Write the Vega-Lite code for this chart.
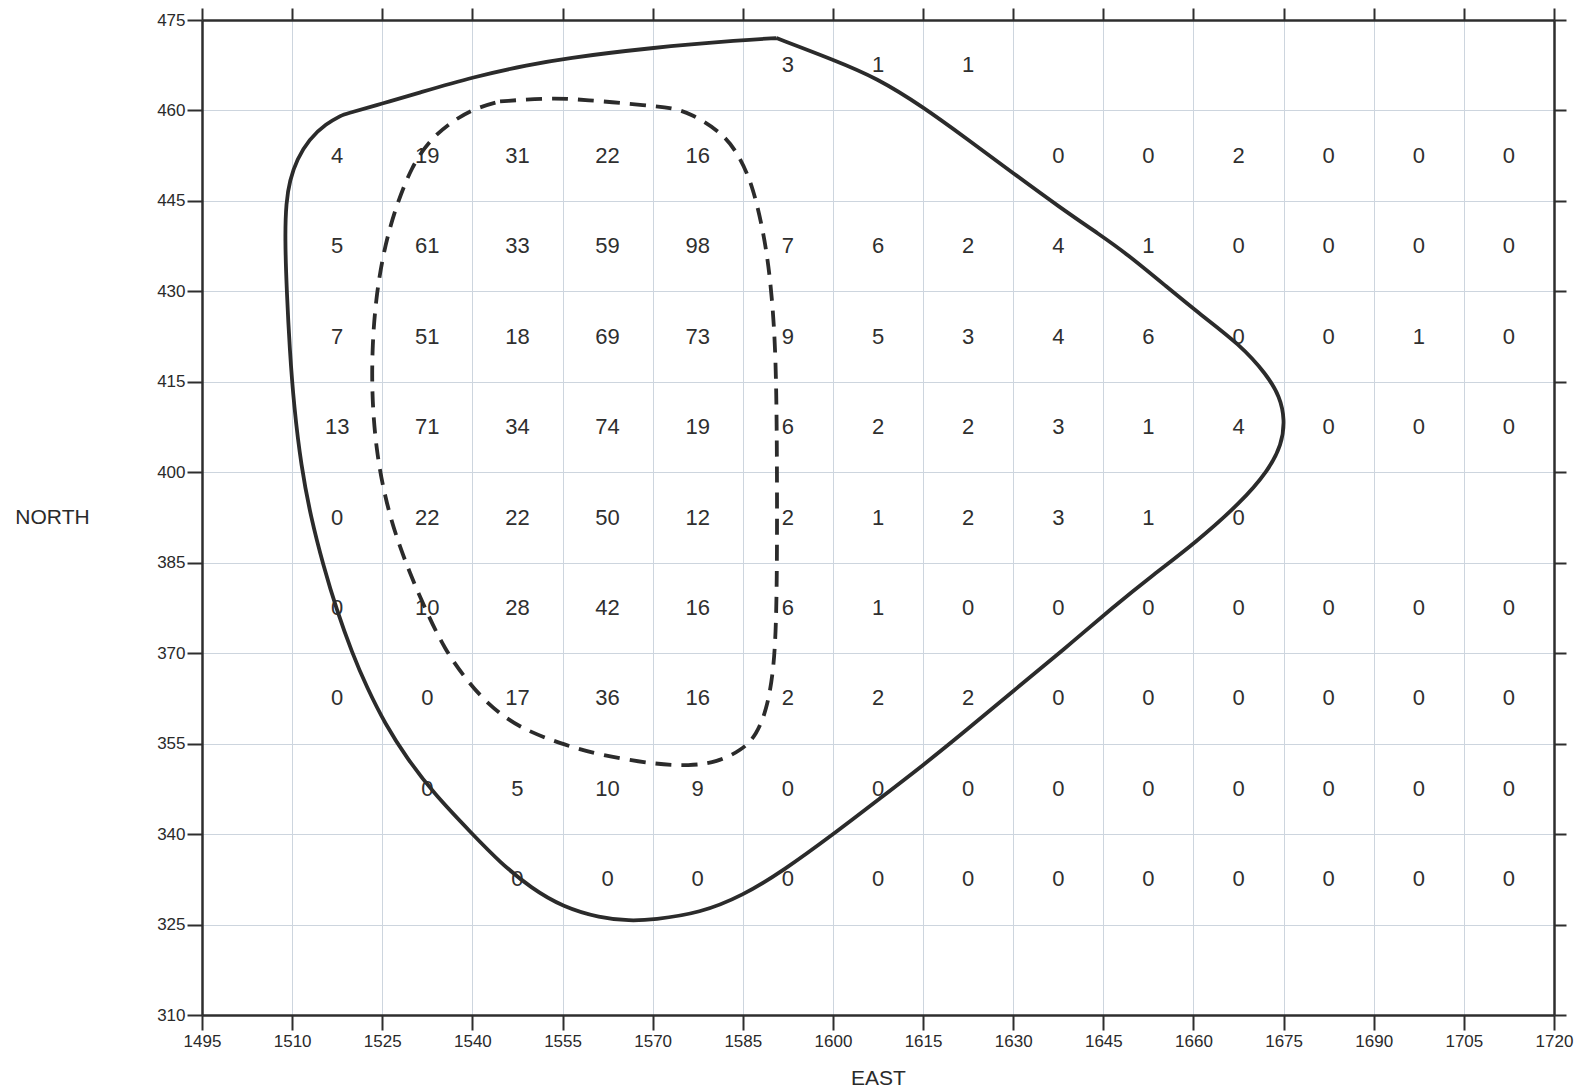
{
  "$schema": "https://vega.github.io/schema/vega-lite/v6.json",
  "width": 1352,
  "height": 995,
  "autosize": {"type": "none"},
  "padding": {"left": 202, "top": 20, "right": 30, "bottom": 75},
  "background": "white",
  "config": {
    "view": {"stroke": null},
    "axis": {
      "labelFont": "Liberation Sans",
      "labelFontSize": 17,
      "labelColor": "#2a2a2a",
      "labelFlush": false,
      "labelOverlap": false,
      "titleFont": "Liberation Sans",
      "titleFontSize": 21,
      "titleFontWeight": "normal",
      "titleColor": "#2a2a2a",
      "domainColor": "#2e2e2e",
      "domainWidth": 2.5,
      "tickColor": "#2e2e2e",
      "tickWidth": 2,
      "gridColor": "#cdd5de",
      "gridWidth": 1
    }
  },
  "datasets": {
    "cells": [
      {"e": 1592.5, "n": 467.5, "v": 3}, {"e": 1607.5, "n": 467.5, "v": 1}, {"e": 1622.5, "n": 467.5, "v": 1},
      {"e": 1517.5, "n": 452.5, "v": 4}, {"e": 1532.5, "n": 452.5, "v": 19}, {"e": 1547.5, "n": 452.5, "v": 31}, {"e": 1562.5, "n": 452.5, "v": 22}, {"e": 1577.5, "n": 452.5, "v": 16}, {"e": 1637.5, "n": 452.5, "v": 0}, {"e": 1652.5, "n": 452.5, "v": 0}, {"e": 1667.5, "n": 452.5, "v": 2}, {"e": 1682.5, "n": 452.5, "v": 0}, {"e": 1697.5, "n": 452.5, "v": 0}, {"e": 1712.5, "n": 452.5, "v": 0},
      {"e": 1517.5, "n": 437.5, "v": 5}, {"e": 1532.5, "n": 437.5, "v": 61}, {"e": 1547.5, "n": 437.5, "v": 33}, {"e": 1562.5, "n": 437.5, "v": 59}, {"e": 1577.5, "n": 437.5, "v": 98}, {"e": 1592.5, "n": 437.5, "v": 7}, {"e": 1607.5, "n": 437.5, "v": 6}, {"e": 1622.5, "n": 437.5, "v": 2}, {"e": 1637.5, "n": 437.5, "v": 4}, {"e": 1652.5, "n": 437.5, "v": 1}, {"e": 1667.5, "n": 437.5, "v": 0}, {"e": 1682.5, "n": 437.5, "v": 0}, {"e": 1697.5, "n": 437.5, "v": 0}, {"e": 1712.5, "n": 437.5, "v": 0},
      {"e": 1517.5, "n": 422.5, "v": 7}, {"e": 1532.5, "n": 422.5, "v": 51}, {"e": 1547.5, "n": 422.5, "v": 18}, {"e": 1562.5, "n": 422.5, "v": 69}, {"e": 1577.5, "n": 422.5, "v": 73}, {"e": 1592.5, "n": 422.5, "v": 9}, {"e": 1607.5, "n": 422.5, "v": 5}, {"e": 1622.5, "n": 422.5, "v": 3}, {"e": 1637.5, "n": 422.5, "v": 4}, {"e": 1652.5, "n": 422.5, "v": 6}, {"e": 1667.5, "n": 422.5, "v": 0}, {"e": 1682.5, "n": 422.5, "v": 0}, {"e": 1697.5, "n": 422.5, "v": 1}, {"e": 1712.5, "n": 422.5, "v": 0},
      {"e": 1517.5, "n": 407.5, "v": 13}, {"e": 1532.5, "n": 407.5, "v": 71}, {"e": 1547.5, "n": 407.5, "v": 34}, {"e": 1562.5, "n": 407.5, "v": 74}, {"e": 1577.5, "n": 407.5, "v": 19}, {"e": 1592.5, "n": 407.5, "v": 6}, {"e": 1607.5, "n": 407.5, "v": 2}, {"e": 1622.5, "n": 407.5, "v": 2}, {"e": 1637.5, "n": 407.5, "v": 3}, {"e": 1652.5, "n": 407.5, "v": 1}, {"e": 1667.5, "n": 407.5, "v": 4}, {"e": 1682.5, "n": 407.5, "v": 0}, {"e": 1697.5, "n": 407.5, "v": 0}, {"e": 1712.5, "n": 407.5, "v": 0},
      {"e": 1517.5, "n": 392.5, "v": 0}, {"e": 1532.5, "n": 392.5, "v": 22}, {"e": 1547.5, "n": 392.5, "v": 22}, {"e": 1562.5, "n": 392.5, "v": 50}, {"e": 1577.5, "n": 392.5, "v": 12}, {"e": 1592.5, "n": 392.5, "v": 2}, {"e": 1607.5, "n": 392.5, "v": 1}, {"e": 1622.5, "n": 392.5, "v": 2}, {"e": 1637.5, "n": 392.5, "v": 3}, {"e": 1652.5, "n": 392.5, "v": 1}, {"e": 1667.5, "n": 392.5, "v": 0},
      {"e": 1517.5, "n": 377.5, "v": 0}, {"e": 1532.5, "n": 377.5, "v": 10}, {"e": 1547.5, "n": 377.5, "v": 28}, {"e": 1562.5, "n": 377.5, "v": 42}, {"e": 1577.5, "n": 377.5, "v": 16}, {"e": 1592.5, "n": 377.5, "v": 6}, {"e": 1607.5, "n": 377.5, "v": 1}, {"e": 1622.5, "n": 377.5, "v": 0}, {"e": 1637.5, "n": 377.5, "v": 0}, {"e": 1652.5, "n": 377.5, "v": 0}, {"e": 1667.5, "n": 377.5, "v": 0}, {"e": 1682.5, "n": 377.5, "v": 0}, {"e": 1697.5, "n": 377.5, "v": 0}, {"e": 1712.5, "n": 377.5, "v": 0},
      {"e": 1517.5, "n": 362.5, "v": 0}, {"e": 1532.5, "n": 362.5, "v": 0}, {"e": 1547.5, "n": 362.5, "v": 17}, {"e": 1562.5, "n": 362.5, "v": 36}, {"e": 1577.5, "n": 362.5, "v": 16}, {"e": 1592.5, "n": 362.5, "v": 2}, {"e": 1607.5, "n": 362.5, "v": 2}, {"e": 1622.5, "n": 362.5, "v": 2}, {"e": 1637.5, "n": 362.5, "v": 0}, {"e": 1652.5, "n": 362.5, "v": 0}, {"e": 1667.5, "n": 362.5, "v": 0}, {"e": 1682.5, "n": 362.5, "v": 0}, {"e": 1697.5, "n": 362.5, "v": 0}, {"e": 1712.5, "n": 362.5, "v": 0},
      {"e": 1532.5, "n": 347.5, "v": 0}, {"e": 1547.5, "n": 347.5, "v": 5}, {"e": 1562.5, "n": 347.5, "v": 10}, {"e": 1577.5, "n": 347.5, "v": 9}, {"e": 1592.5, "n": 347.5, "v": 0}, {"e": 1607.5, "n": 347.5, "v": 0}, {"e": 1622.5, "n": 347.5, "v": 0}, {"e": 1637.5, "n": 347.5, "v": 0}, {"e": 1652.5, "n": 347.5, "v": 0}, {"e": 1667.5, "n": 347.5, "v": 0}, {"e": 1682.5, "n": 347.5, "v": 0}, {"e": 1697.5, "n": 347.5, "v": 0}, {"e": 1712.5, "n": 347.5, "v": 0},
      {"e": 1547.5, "n": 332.5, "v": 0}, {"e": 1562.5, "n": 332.5, "v": 0}, {"e": 1577.5, "n": 332.5, "v": 0}, {"e": 1592.5, "n": 332.5, "v": 0}, {"e": 1607.5, "n": 332.5, "v": 0}, {"e": 1622.5, "n": 332.5, "v": 0}, {"e": 1637.5, "n": 332.5, "v": 0}, {"e": 1652.5, "n": 332.5, "v": 0}, {"e": 1667.5, "n": 332.5, "v": 0}, {"e": 1682.5, "n": 332.5, "v": 0}, {"e": 1697.5, "n": 332.5, "v": 0}, {"e": 1712.5, "n": 332.5, "v": 0}
    ],
    "outer": [
      {"i": 1, "e": 1590.6, "n": 472.0}, {"i": 2, "e": 1600.1, "n": 468.4}, {"i": 3, "e": 1607.3, "n": 465.4}, {"i": 4, "e": 1615.0, "n": 460.6},
      {"i": 5, "e": 1622.3, "n": 455.3}, {"i": 6, "e": 1630.0, "n": 449.6}, {"i": 7, "e": 1637.8, "n": 443.9}, {"i": 8, "e": 1644.4, "n": 439.4},
      {"i": 9, "e": 1648.8, "n": 436.3}, {"i": 10, "e": 1655.5, "n": 430.8}, {"i": 11, "e": 1661.1, "n": 426.2}, {"i": 12, "e": 1667.7, "n": 421.2},
      {"i": 13, "e": 1672.2, "n": 416.2}, {"i": 14, "e": 1674.4, "n": 412.5}, {"i": 15, "e": 1675.2, "n": 408.7}, {"i": 16, "e": 1674.7, "n": 404.6},
      {"i": 17, "e": 1672.4, "n": 400.2}, {"i": 18, "e": 1667.9, "n": 395.0}, {"i": 19, "e": 1660.3, "n": 388.3}, {"i": 20, "e": 1653.3, "n": 383.0},
      {"i": 21, "e": 1646.8, "n": 377.8}, {"i": 22, "e": 1638.3, "n": 370.5}, {"i": 23, "e": 1630.2, "n": 363.9}, {"i": 24, "e": 1622.3, "n": 357.3},
      {"i": 25, "e": 1615.0, "n": 351.4}, {"i": 26, "e": 1607.8, "n": 345.9}, {"i": 27, "e": 1600.1, "n": 340.0}, {"i": 28, "e": 1591.7, "n": 333.9},
      {"i": 29, "e": 1585.0, "n": 329.8}, {"i": 30, "e": 1577.9, "n": 326.9}, {"i": 31, "e": 1570.1, "n": 325.8}, {"i": 32, "e": 1566.2, "n": 325.6},
      {"i": 33, "e": 1561.2, "n": 326.1}, {"i": 34, "e": 1555.1, "n": 327.9}, {"i": 35, "e": 1549.8, "n": 331.0}, {"i": 36, "e": 1544.6, "n": 335.3},
      {"i": 37, "e": 1540.0, "n": 340.0}, {"i": 38, "e": 1533.5, "n": 346.8}, {"i": 39, "e": 1529.1, "n": 352.6}, {"i": 40, "e": 1525.5, "n": 358.2},
      {"i": 41, "e": 1522.4, "n": 364.4}, {"i": 42, "e": 1520.0, "n": 370.0}, {"i": 43, "e": 1517.4, "n": 377.2}, {"i": 44, "e": 1515.2, "n": 384.5},
      {"i": 45, "e": 1513.1, "n": 392.6}, {"i": 46, "e": 1511.5, "n": 401.0}, {"i": 47, "e": 1510.3, "n": 411.0}, {"i": 48, "e": 1509.6, "n": 420.3},
      {"i": 49, "e": 1509.1, "n": 429.9}, {"i": 50, "e": 1508.8, "n": 439.0}, {"i": 51, "e": 1509.0, "n": 444.8}, {"i": 52, "e": 1509.6, "n": 448.4},
      {"i": 53, "e": 1510.8, "n": 451.9}, {"i": 54, "e": 1512.8, "n": 455.2}, {"i": 55, "e": 1515.6, "n": 457.8}, {"i": 56, "e": 1518.5, "n": 459.3},
      {"i": 57, "e": 1518.5, "n": 459.3}, {"i": 58, "e": 1525.2, "n": 461.2}, {"i": 59, "e": 1530.7, "n": 462.8}, {"i": 60, "e": 1540.2, "n": 465.6}, {"i": 61, "e": 1549.6, "n": 467.6},
      {"i": 62, "e": 1555.1, "n": 468.6}, {"i": 63, "e": 1569.6, "n": 470.4}, {"i": 64, "e": 1585.1, "n": 471.7}, {"i": 65, "e": 1590.6, "n": 472.0}
    ],
    "inner": [
      {"i": 1, "e": 1544.6, "n": 461.5}, {"i": 2, "e": 1552.9, "n": 462.1}, {"i": 3, "e": 1558.5, "n": 461.8}, {"i": 4, "e": 1569.6, "n": 460.8},
      {"i": 5, "e": 1573.2, "n": 460.4}, {"i": 6, "e": 1576.2, "n": 459.6}, {"i": 7, "e": 1581.8, "n": 456.2}, {"i": 8, "e": 1584.5, "n": 452.3},
      {"i": 9, "e": 1586.7, "n": 447.4}, {"i": 10, "e": 1588.5, "n": 439.5}, {"i": 11, "e": 1589.5, "n": 432.8}, {"i": 12, "e": 1590.3, "n": 423.5},
      {"i": 13, "e": 1590.6, "n": 413.2}, {"i": 14, "e": 1590.7, "n": 400.0}, {"i": 15, "e": 1590.7, "n": 383.8}, {"i": 16, "e": 1590.5, "n": 373.0},
      {"i": 17, "e": 1590.0, "n": 366.3}, {"i": 18, "e": 1589.0, "n": 360.8}, {"i": 19, "e": 1587.3, "n": 356.4}, {"i": 20, "e": 1584.8, "n": 353.9},
      {"i": 21, "e": 1580.7, "n": 351.9}, {"i": 22, "e": 1576.2, "n": 351.3}, {"i": 23, "e": 1570.1, "n": 351.6}, {"i": 24, "e": 1561.2, "n": 353.1},
      {"i": 25, "e": 1554.6, "n": 355.0}, {"i": 26, "e": 1547.6, "n": 357.7}, {"i": 27, "e": 1542.6, "n": 361.5}, {"i": 28, "e": 1538.9, "n": 365.7},
      {"i": 29, "e": 1535.4, "n": 370.6}, {"i": 30, "e": 1532.4, "n": 376.8}, {"i": 31, "e": 1529.6, "n": 383.2}, {"i": 32, "e": 1527.1, "n": 389.9},
      {"i": 33, "e": 1525.3, "n": 396.5}, {"i": 34, "e": 1524.0, "n": 403.7}, {"i": 35, "e": 1523.3, "n": 412.0}, {"i": 36, "e": 1523.3, "n": 420.3},
      {"i": 37, "e": 1523.9, "n": 428.6}, {"i": 38, "e": 1525.2, "n": 436.6}, {"i": 39, "e": 1527.1, "n": 443.6}, {"i": 40, "e": 1529.9, "n": 450.8},
      {"i": 41, "e": 1533.0, "n": 455.2}, {"i": 42, "e": 1536.5, "n": 458.1}, {"i": 43, "e": 1540.2, "n": 460.3}, {"i": 44, "e": 1544.6, "n": 461.5}
    ]
  },
  "layer": [
    {
      "data": {"name": "cells"},
      "mark": {"type": "text", "font": "Liberation Sans", "fontSize": 22, "fill": "#2f2f2f", "align": "center", "baseline": "middle"},
      "encoding": {
        "x": {
          "field": "e", "type": "quantitative",
          "scale": {"domain": [1495, 1720], "nice": false, "zero": false},
          "axis": {
            "orient": "bottom",
            "values": [1495, 1510, 1525, 1540, 1555, 1570, 1585, 1600, 1615, 1630, 1645, 1660, 1675, 1690, 1705, 1720],
            "format": "d",
            "title": "EAST",
            "grid": true,
            "tickSize": 15,
            "labelFontSize": 17,
            "labelFlush": false,
            "labelPadding": 3,
            "titleY": 63,
            "titleBaseline": "middle"
          }
        },
        "y": {
          "field": "n", "type": "quantitative",
          "scale": {"domain": [310, 475], "nice": false, "zero": false},
          "axis": {
            "orient": "left",
            "values": [310, 325, 340, 355, 370, 385, 400, 415, 430, 445, 460, 475],
            "format": "d",
            "title": "NORTH",
            "grid": true,
            "tickSize": 15,
            "labelFontSize": 17,
            "labelFlush": false,
            "labelPadding": 2,
            "titleAngle": 0,
            "titleX": -150,
            "titleY": 497.5,
            "titleAlign": "center",
            "titleBaseline": "middle"
          }
        },
        "text": {"field": "v", "type": "quantitative", "format": "d"}
      }
    },
    {
      "data": {"name": "outer"},
      "mark": {"type": "line", "interpolate": "basis", "stroke": "#2b2b2b", "strokeWidth": 3.8},
      "encoding": {
        "x": {
          "field": "e", "type": "quantitative",
          "axis": {
            "orient": "top",
            "values": [1495, 1510, 1525, 1540, 1555, 1570, 1585, 1600, 1615, 1630, 1645, 1660, 1675, 1690, 1705, 1720],
            "labels": false, "title": null, "grid": false, "tickSize": 12
          }
        },
        "y": {
          "field": "n", "type": "quantitative",
          "axis": {
            "orient": "right",
            "values": [310, 325, 340, 355, 370, 385, 400, 415, 430, 445, 460, 475],
            "labels": false, "title": null, "grid": false, "tickSize": 12
          }
        },
        "order": {"field": "i", "type": "quantitative"}
      }
    },
    {
      "data": {"name": "inner"},
      "mark": {"type": "line", "interpolate": "basis", "stroke": "#2b2b2b", "strokeWidth": 3.8, "strokeDash": [16, 10]},
      "encoding": {
        "x": {"field": "e", "type": "quantitative", "axis": null},
        "y": {"field": "n", "type": "quantitative", "axis": null},
        "order": {"field": "i", "type": "quantitative"}
      }
    }
  ],
  "resolve": {"axis": {"x": "independent", "y": "independent"}}
}
